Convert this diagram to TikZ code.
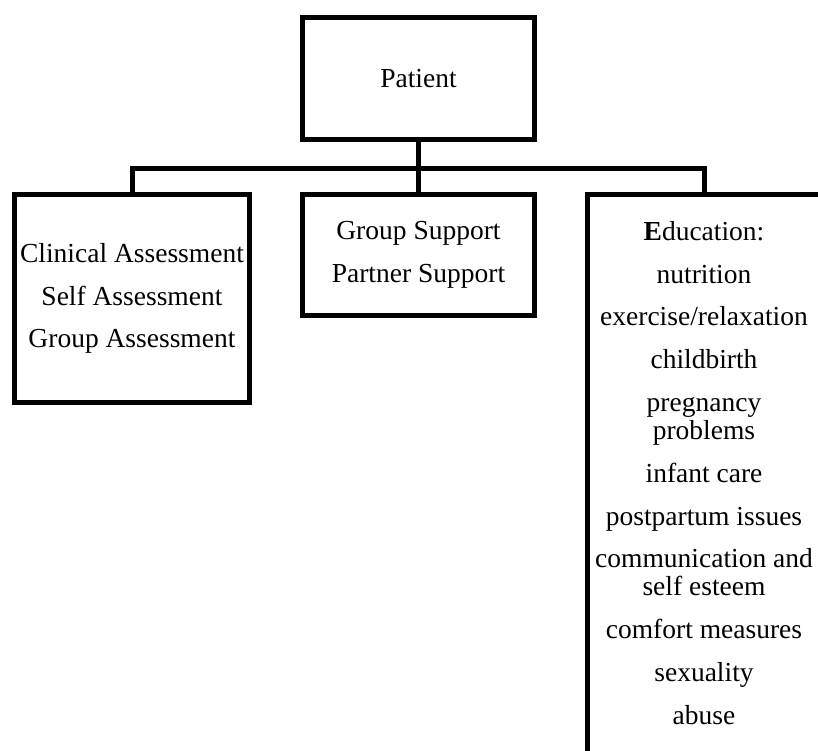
\documentclass[tikz,border=0pt]{standalone}
\usepackage{fontspec}
\setmainfont{Liberation Serif}
\begin{document}
\begin{tikzpicture}[x=1pt,y=-1pt,
  box/.style={draw=black,line width=5pt,rectangle,inner sep=0pt,align=center,
    font=\fontsize{27.5}{42.5}\selectfont},
  conn/.style={draw=black,line width=5pt}]
\useasboundingbox (0,0) rectangle (818,750);
\clip (0,0) rectangle (818,750);
\node[box,minimum width=232pt,minimum height=122pt] (patient) at (418.5,78.5) {Patient};
\node[box,minimum width=235pt,minimum height=208pt] (assess) at (132,298.5)
  {Clinical Assessment\\Self Assessment\\Group Assessment};
\node[box,minimum width=232pt,minimum height=121pt] (support) at (418.5,255)
  {Group Support\\Partner Support};
\node[box,minimum width=233pt,minimum height=565.5pt] (edu) at (704,477.25) {};
\node[anchor=north,inner sep=0pt,align=center,font=\fontsize{27.5}{28}\selectfont] (edulist) at (704,221)
  {\textbf{E}ducation:\\[14.8pt]
   nutrition\\[14.8pt]
   exercise/relaxation\\[14.8pt]
   childbirth\\[14.8pt]
   pregnancy\\problems\\[14.8pt]
   infant care\\[14.8pt]
   postpartum issues\\[14.8pt]
   communication and\\self esteem\\[14.8pt]
   comfort measures\\[14.8pt]
   sexuality\\[14.8pt]
   abuse};
\coordinate (bus) at (418.5,168);
\draw[conn] (assess.north) |- (bus) -| (edu.north);
\draw[conn] (patient.south) -- (support.north);
\end{tikzpicture}
\end{document}
